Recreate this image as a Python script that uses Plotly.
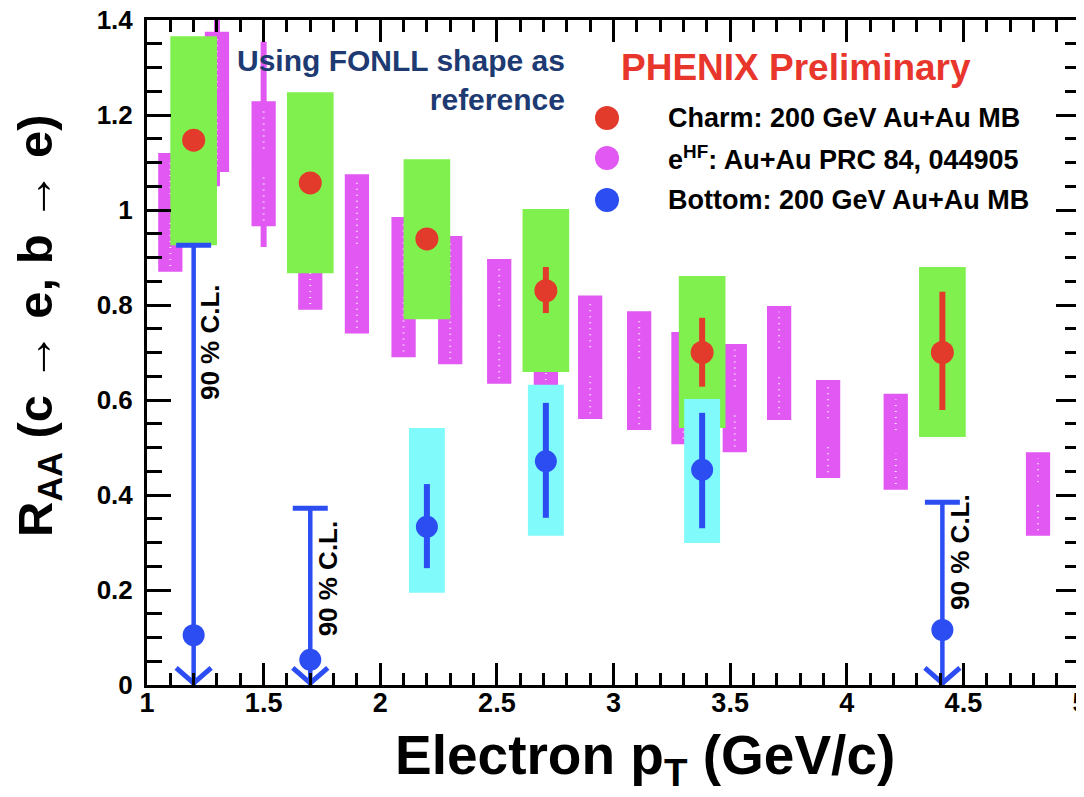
import plotly.graph_objects as go

# ---------------- data ----------------
# Charm (c -> e), 200 GeV Au+Au MB
charm_x = [1.20, 1.70, 2.20, 2.71, 3.38, 4.41]
charm_y = [1.147, 1.057, 0.939, 0.830, 0.700, 0.700]
charm_stat_lo = [1.130, 1.040, 0.920, 0.783, 0.628, 0.579]
charm_stat_hi = [1.165, 1.075, 0.960, 0.880, 0.773, 0.828]
charm_sys_lo = [0.926, 0.867, 0.770, 0.659, 0.541, 0.522]
charm_sys_hi = [1.366, 1.248, 1.107, 1.002, 0.861, 0.880]

# Bottom (b -> e), measured points
bottom_x = [2.20, 2.71, 3.38]
bottom_y = [0.333, 0.471, 0.453]
bottom_stat_lo = [0.246, 0.352, 0.330]
bottom_stat_hi = [0.423, 0.594, 0.573]
bottom_sys_lo = [0.194, 0.314, 0.299]
bottom_sys_hi = [0.541, 0.632, 0.602]
# Bottom, 90% C.L. upper limits
bottom_ul_x = [1.20, 1.70, 4.41]
bottom_ul_y = [0.105, 0.053, 0.116]
bottom_ul = [0.926, 0.372, 0.385]

# e^HF Au+Au PRC 84, 044905
ehf_x = [1.10, 1.30, 1.50, 1.70, 1.90, 2.10, 2.30, 2.51, 2.71, 2.90,
         3.11, 3.30, 3.52, 3.71, 3.92, 4.21, 4.82]
ehf_y = [1.00, 1.23, 1.10, 0.93, 0.905, 0.84, 0.81, 0.765, 0.75, 0.68,
         0.657, 0.617, 0.60, 0.68, 0.53, 0.51, 0.404]
ehf_sys_lo = [0.870, 1.080, 0.966, 0.790, 0.740, 0.690, 0.675, 0.634, 0.630, 0.560,
              0.537, 0.507, 0.490, 0.558, 0.436, 0.411, 0.314]
ehf_sys_hi = [1.120, 1.375, 1.229, 1.070, 1.075, 0.985, 0.945, 0.897, 0.870, 0.820,
              0.787, 0.743, 0.718, 0.798, 0.642, 0.613, 0.490]
ehf_stat_lo = [0.950, 1.050, 0.922, 0.880, 0.860, 0.800, 0.770, 0.730, 0.710, 0.650,
               0.625, 0.590, 0.570, 0.645, 0.500, 0.475, 0.365]
ehf_stat_hi = [1.050, 1.400, 1.354, 0.980, 0.950, 0.880, 0.850, 0.800, 0.790, 0.710,
               0.690, 0.645, 0.630, 0.715, 0.560, 0.545, 0.445]

x_tick_vals = [1, 1.5, 2, 2.5, 3, 3.5, 4, 4.5, 5]
x_tick_text = ["1", "1.5", "2", "2.5", "3", "3.5", "4", "4.5", "5"]
y_tick_vals = [0, 0.2, 0.4, 0.6, 0.8, 1.0, 1.2, 1.4]
y_tick_text = ["0", "0.2", "0.4", "0.6", "0.8", "1", "1.2", "1.4"]

# ---------------- styles ----------------
RED = "#E33B2B"
MAGENTA = "#E158F2"
BLUE = "#2B4DF2"
GREEN = "#80F04E"
CYAN = "#80FAFA"
FONT = "Liberation Sans, Arial, sans-serif"

W_GREEN = 0.10
W_CYAN = 0.077
W_MAG = 0.052
W_CAP = 0.075
ARROW_DX = 0.075
ARROW_DY = 0.036

# page body has an 8 px default margin; plot area in window pixels: x 147..1080, y 20..685
PX0, PX1, PY0, PY1 = 147.0, 1080.0, 20.0, 685.0


def xp(px):
    return (px - PX0) / (PX1 - PX0)


def yp(py):
    return (PY1 - py) / (PY1 - PY0)


def rects(xs, lo, hi, hw):
    px, py = [], []
    for x, a, b in zip(xs, lo, hi):
        px += [x - hw, x + hw, x + hw, x - hw, x - hw, None]
        py += [a, a, b, b, a, None]
    return px, py


def vsegs(xs, lo, hi):
    px, py = [], []
    for x, a, b in zip(xs, lo, hi):
        px += [x, x, None]
        py += [a, b, None]
    return px, py


def box_trace(xs, lo, hi, hw, color):
    px, py = rects(xs, lo, hi, hw)
    return go.Scatter(x=px, y=py, mode="lines", fill="toself", fillcolor=color,
                      line=dict(width=0, color=color), hoverinfo="skip", showlegend=False)


fig = go.Figure()

# e^HF systematic boxes
fig.add_trace(box_trace(ehf_x, ehf_sys_lo, ehf_sys_hi, W_MAG, MAGENTA))
# e^HF stat bars
sx, sy = vsegs(ehf_x, ehf_stat_lo, ehf_stat_hi)
fig.add_trace(go.Scatter(x=sx, y=sy, mode="lines", line=dict(color=MAGENTA, width=6),
                         hoverinfo="skip", showlegend=False))
# white dotted pattern in e^HF boxes
dlo = [a + 0.012 for a in ehf_sys_lo]
dhi = [b - 0.012 for b in ehf_sys_hi]
dx, dy = vsegs(ehf_x, dlo, dhi)
fig.add_trace(go.Scatter(x=dx, y=dy, mode="lines",
                         line=dict(color="rgba(255,255,255,0.85)", width=2, dash="1px,5px"),
                         hoverinfo="skip", showlegend=False))
# e^HF points
fig.add_trace(go.Scatter(x=ehf_x, y=ehf_y, mode="markers",
                         marker=dict(color=MAGENTA, size=22),
                         name="eHF: Au+Au PRC 84, 044905", showlegend=False))

# Charm systematic boxes
fig.add_trace(box_trace(charm_x, charm_sys_lo, charm_sys_hi, W_GREEN, GREEN))
# Charm points + stat
fig.add_trace(go.Scatter(
    x=charm_x, y=charm_y, mode="markers",
    marker=dict(color=RED, size=23),
    error_y=dict(type="data", symmetric=False,
                 array=[h - v for h, v in zip(charm_stat_hi, charm_y)],
                 arrayminus=[v - l for v, l in zip(charm_y, charm_stat_lo)],
                 color=RED, thickness=6, width=0),
    name="Charm: 200 GeV Au+Au MB", showlegend=False))

# Bottom systematic boxes
fig.add_trace(box_trace(bottom_x, bottom_sys_lo, bottom_sys_hi, W_CYAN, CYAN))
# Bottom upper-limit lines
ux, uy = vsegs(bottom_ul_x, [0.0] * len(bottom_ul_x), bottom_ul)
fig.add_trace(go.Scatter(x=ux, y=uy, mode="lines", line=dict(color=BLUE, width=4.5),
                         hoverinfo="skip", showlegend=False))
# caps
cx, cy = [], []
for x, u in zip(bottom_ul_x, bottom_ul):
    cx += [x - W_CAP, x + W_CAP, None]
    cy += [u, u, None]
fig.add_trace(go.Scatter(x=cx, y=cy, mode="lines", line=dict(color=BLUE, width=5),
                         hoverinfo="skip", showlegend=False))
# arrow heads
ax, ay = [], []
for x in bottom_ul_x:
    ax += [x - ARROW_DX, x, x + ARROW_DX, None]
    ay += [ARROW_DY, 0.004, ARROW_DY, None]
fig.add_trace(go.Scatter(x=ax, y=ay, mode="lines", line=dict(color=BLUE, width=5),
                         hoverinfo="skip", showlegend=False))
# Bottom upper-limit central points
fig.add_trace(go.Scatter(x=bottom_ul_x, y=bottom_ul_y, mode="markers",
                         marker=dict(color=BLUE, size=22), showlegend=False))
# Bottom measured points + stat
fig.add_trace(go.Scatter(
    x=bottom_x, y=bottom_y, mode="markers",
    marker=dict(color=BLUE, size=22),
    error_y=dict(type="data", symmetric=False,
                 array=[h - v for h, v in zip(bottom_stat_hi, bottom_y)],
                 arrayminus=[v - l for v, l in zip(bottom_y, bottom_stat_lo)],
                 color=BLUE, thickness=6, width=0),
    name="Bottom: 200 GeV Au+Au MB", showlegend=False))

# ---------------- annotations ----------------
annotations = []
# 90 % C.L. labels
for x, y in [(1.27, 0.722), (1.777, 0.225), (4.485, 0.28)]:
    annotations.append(dict(x=x, y=y, xref="x", yref="y", text="90 % C.L.", showarrow=False,
                            textangle=-90, font=dict(family=FONT, size=26, color="black", weight="bold")))

annotations.append(dict(x=xp(567), y=yp(42), xref="paper", yref="paper", xanchor="right", yanchor="top",
                        align="right", showarrow=False,
                        text="Using FONLL shape as<br>reference",
                        font=dict(family=FONT, size=30, color="#1E3A72", weight="bold")))
annotations.append(dict(x=xp(796), y=yp(67), xref="paper", yref="paper", xanchor="center", yanchor="middle",
                        showarrow=False, text="PHENIX Preliminary",
                        font=dict(family=FONT, size=37, color="#E8362C", weight="bold")))

legend_items = [("Charm: 200 GeV Au+Au MB", RED, 118),
                ("e<sup>HF</sup>: Au+Au PRC 84, 044905", MAGENTA, 158),
                ("Bottom: 200 GeV Au+Au MB", BLUE, 200)]
shapes = []
for txt, col, py in legend_items:
    shapes.append(dict(type="circle", xref="paper", yref="paper", xsizemode="pixel", ysizemode="pixel",
                       xanchor=xp(607), yanchor=yp(py), x0=-12, x1=12, y0=-12, y1=12,
                       fillcolor=col, line=dict(width=0)))
    annotations.append(dict(x=xp(666), y=yp(py), xref="paper", yref="paper", xanchor="left",
                            yanchor="middle", showarrow=False, text=txt,
                            font=dict(family=FONT, size=27, color="black", weight="bold")))

# axis titles
annotations.append(dict(x=xp(645), y=yp(722), xref="paper", yref="paper",
                        xanchor="center", yanchor="top", showarrow=False,
                        text="Electron p<sub>T</sub> (GeV/c)",
                        font=dict(family=FONT, size=55, color="black", weight="bold")))
annotations.append(dict(x=xp(38), y=yp(326), xref="paper", yref="paper",
                        xanchor="center", yanchor="middle", showarrow=False, textangle=-90,
                        text="R<sub>AA</sub> (c → e, b → e)",
                        font=dict(family=FONT, size=49, color="black", weight="bold")))

axis_common = dict(showgrid=False, zeroline=False, showline=True, linecolor="black", linewidth=3,
                   mirror="ticks", ticks="inside", tickcolor="black", tickwidth=3,
                   ticklabeloverflow="allow", automargin=False)

fig.update_layout(
    width=1076, height=789,
    margin=dict(l=139, r=4, t=12, b=112, autoexpand=False),
    paper_bgcolor="white", plot_bgcolor="white",
    showlegend=False,
    annotations=annotations,
    shapes=shapes,
    xaxis=dict(range=[1, 5], tickvals=x_tick_vals, ticktext=x_tick_text, ticklen=22,
               minor=dict(dtick=0.1, tick0=1, ticks="inside", ticklen=12, tickwidth=3, tickcolor="black"),
               tickfont=dict(family=FONT, size=27, color="black", weight="bold"),
               ticklabelstandoff=-8,
               **axis_common),
    yaxis=dict(range=[0, 1.4], tickvals=y_tick_vals, ticktext=y_tick_text, ticklen=24,
               minor=dict(dtick=0.05, tick0=0, ticks="inside", ticklen=15, tickwidth=3, tickcolor="black"),
               tickfont=dict(family=FONT, size=26, color="black", weight="bold"),
               ticklabelstandoff=6,
               **axis_common),
)

fig.write_html("out.html")
